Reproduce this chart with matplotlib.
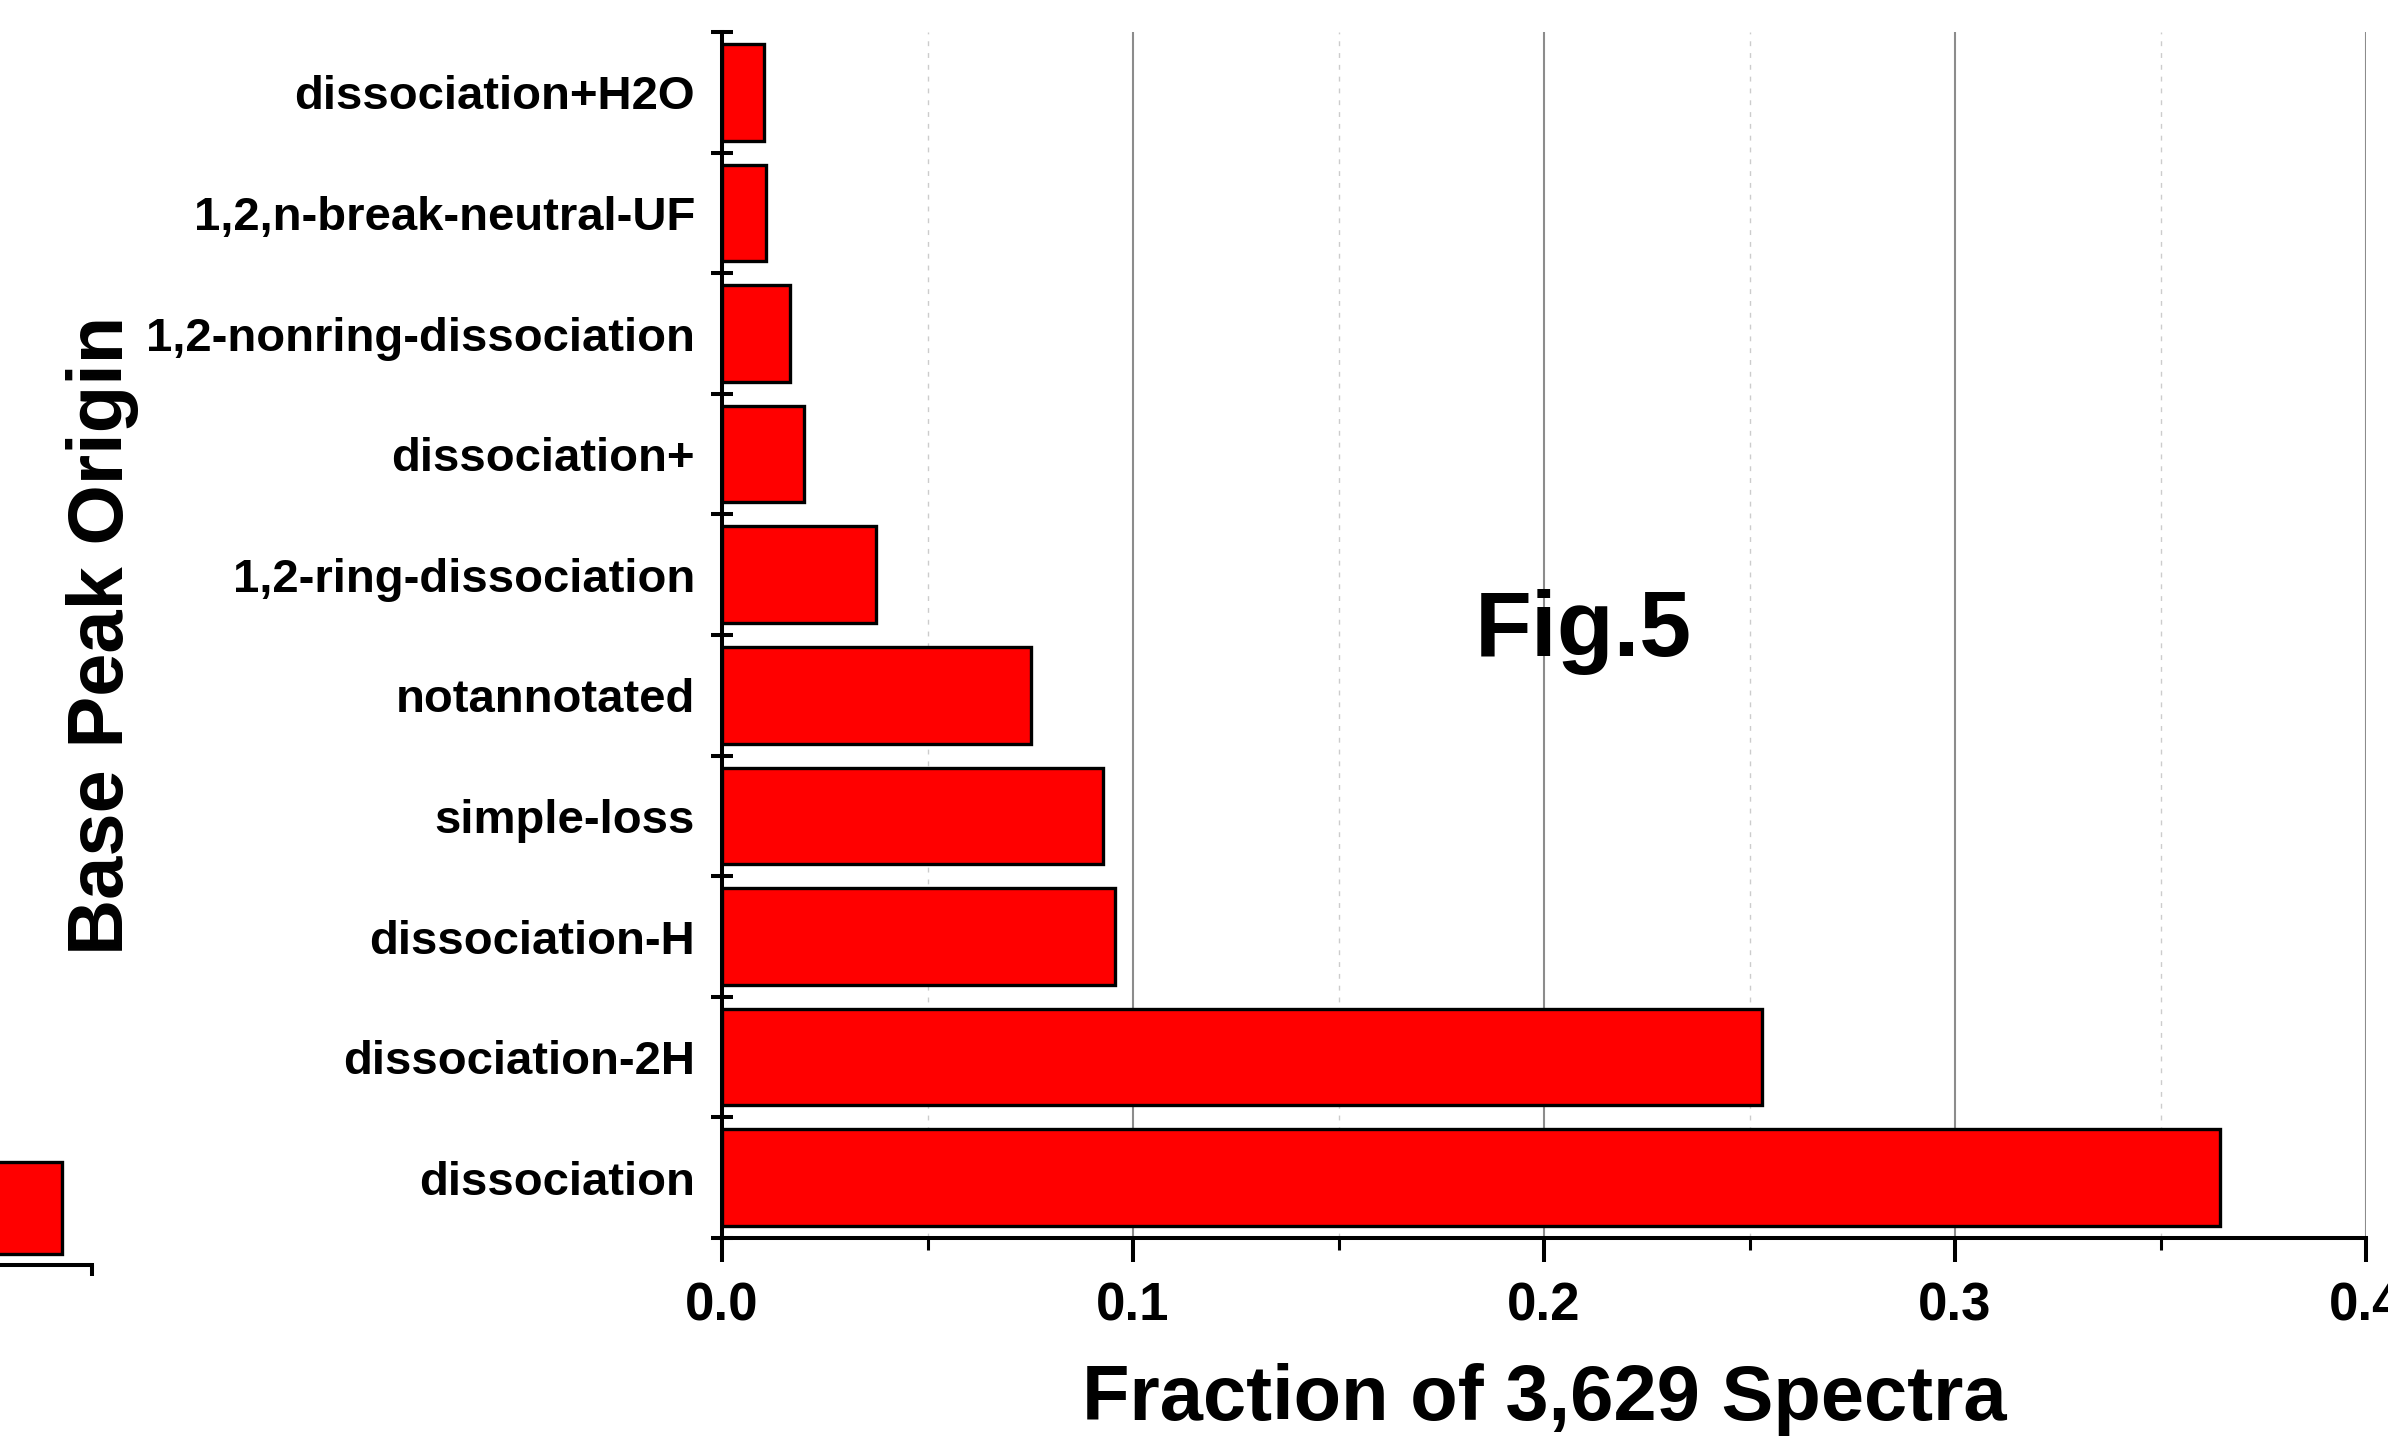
import numpy as np
import matplotlib
matplotlib.use("Agg")
import matplotlib.pyplot as plt
from matplotlib.ticker import MultipleLocator, FixedLocator

plt.rcParams['font.family'] = ['Liberation Sans', 'DejaVu Sans']
plt.rcParams['font.weight'] = 'bold'

# bottom to top
origins = ['dissociation', 'dissociation-2H', 'dissociation-H', 'simple-loss',
           'notannotated', '1,2-ring-dissociation', 'dissociation+',
           '1,2-nonring-dissociation', '1,2,n-break-neutral-UF', 'dissociation+H2O']
fractions = [0.3645, 0.2530, 0.0955, 0.0926, 0.0751, 0.0374, 0.0199, 0.0166, 0.0106, 0.0103]
x_ticks = [0.0, 0.1, 0.2, 0.3, 0.4]
x_ticklabels = ['0.0', '0.1', '0.2', '0.3', '0.4']

# fragment of a neighbouring panel, cut off at the left edge
stray_values = [0.858]

W, H = 2388, 1437
fig = plt.figure(figsize=(W / 100, H / 100), dpi=100)

# main axes, placed in pixels
left, right, top, bottom = 722, 2366, 32, 1238
ax = fig.add_axes([left / W, 1 - bottom / H, (right - left) / W, (bottom - top) / H])

y = np.arange(len(origins))
ax.barh(y, fractions, height=0.8, color='#ff0000', edgecolor='black', linewidth=2.4, zorder=3)

ax.set_xlim(0, 0.4)
ax.set_ylim(-0.5, len(origins) - 0.5)

ax.set_xticks(x_ticks)
ax.set_xticklabels(x_ticklabels)
ax.xaxis.set_minor_locator(MultipleLocator(0.05))
ax.set_yticks(y)
ax.set_yticklabels(origins)
ax.yaxis.set_minor_locator(FixedLocator(np.arange(-0.5, len(origins), 1.0)))

ax.tick_params(axis='x', which='major', direction='out', length=17, width=2.9,
               labelsize=38, pad=14)
ax.tick_params(axis='x', which='minor', direction='out', length=8.6, width=2.2)
ax.tick_params(axis='y', which='major', length=0, labelsize=34, pad=19.5)
ax.tick_params(axis='y', which='minor', direction='inout', length=16.5, width=2.9)
for lbl in ax.get_xticklabels() + ax.get_yticklabels():
    lbl.set_fontweight('bold')
for lbl in ax.get_yticklabels():
    lbl.set_y(lbl.get_position()[1])

ax.grid(axis='x', which='major', color='#8c8c8c', linewidth=1.5, linestyle='-')
ax.grid(axis='x', which='minor', color='#cccccc', linewidth=1.0, linestyle=(0, (3.5, 5)))
ax.set_axisbelow(True)

for side in ['top', 'right']:
    ax.spines[side].set_visible(False)
for side in ['left', 'bottom']:
    ax.spines[side].set_linewidth(2.9)

ax.set_xlabel('Fraction of 3,629 Spectra', fontsize=56, fontweight='bold')
ax.xaxis.label.set_va('baseline')
ax.xaxis.set_label_coords(0.5, (bottom - 1420) / (bottom - top))

ax.set_ylabel('Base Peak Origin', fontsize=56, fontweight='bold')
ax.yaxis.label.set_va('baseline')
ax.yaxis.set_label_coords((123 - left) / (right - left), 0.5)

fig.text(1475 / W, 1 - 656 / H, 'Fig.5', fontsize=67, fontweight='bold',
         ha='left', va='baseline')

# cropped neighbour panel at bottom-left
sx0, sx1, sy_top, sy_bot = -120, 92, 1150, 1265
ax2 = fig.add_axes([sx0 / W, 1 - sy_bot / H, (sx1 - sx0) / W, (sy_bot - sy_top) / H])
ax2.barh([0.496], stray_values, height=0.8, color='#ff0000', edgecolor='black', linewidth=2.4)
ax2.set_xlim(0, 1)
ax2.set_ylim(0, 1)
ax2.set_xticks([1.0])
ax2.set_xticklabels([])
ax2.set_yticks([])
ax2.tick_params(axis='x', direction='out', length=8, width=2.9)
for side in ['top', 'right', 'left']:
    ax2.spines[side].set_visible(False)
ax2.spines['bottom'].set_linewidth(2.9)
ax2.patch.set_alpha(0)

fig.savefig('out.png', dpi=100)
